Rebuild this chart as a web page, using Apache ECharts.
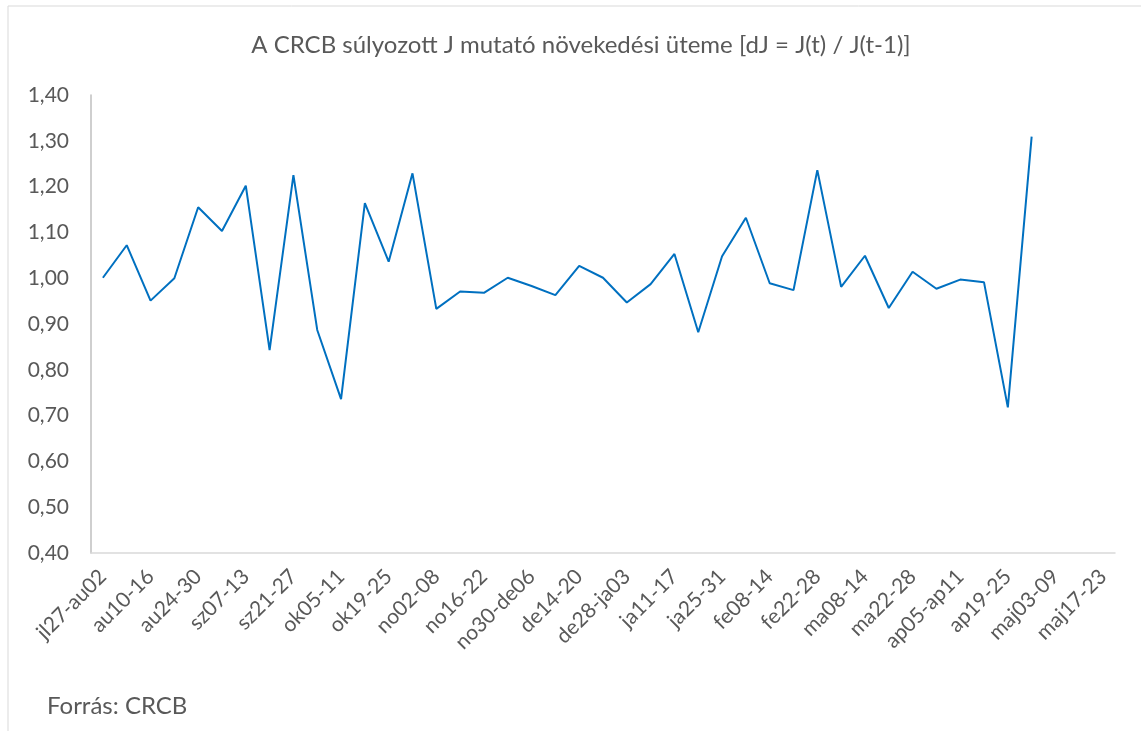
<!DOCTYPE html>
<html>
<head>
<meta charset="utf-8">
<script src="https://cdn.jsdelivr.net/npm/echarts@6/dist/echarts.min.js"></script>
<style>
  html, body { margin: 0; padding: 0; background: #fff; }
  #chart { width: 1141px; height: 731px; }
</style>
</head>
<body>
<div id="chart"></div>
<script>
// heti időszakok (2020 júl - 2021 máj)
const weeks = [
    'jl27-au02', 'au03-09', 'au10-16', 'au17-23', 'au24-30', 'au31-sz06', 'sz07-13', 'sz14-20',
    'sz21-27', 'sz28-ok04', 'ok05-11', 'ok12-18', 'ok19-25', 'ok26-no01', 'no02-08', 'no09-15',
    'no16-22', 'no23-29', 'no30-de06', 'de07-13', 'de14-20', 'de21-27', 'de28-ja03', 'ja04-10',
    'ja11-17', 'ja18-24', 'ja25-31', 'fe01-07', 'fe08-14', 'fe15-21', 'fe22-28', 'ma01-07',
    'ma08-14', 'ma15-21', 'ma22-28', 'ma29-ap04', 'ap05-ap11', 'ap12-18', 'ap19-25', 'ap26-maj02',
    'maj03-09', 'maj10-16', 'maj17-23'
];

// dJ = J(t) / J(t-1)
const dJ = [
    1.001, 1.072, 0.951, 1.000, 1.155, 1.103, 1.202, 0.843, 1.225, 0.887,
    0.736, 1.164, 1.036, 1.229, 0.933, 0.971, 0.968, 1.001, 0.983, 0.963,
    1.027, 1.001, 0.947, 0.987, 1.053, 0.882, 1.048, 1.132, 0.989, 0.974,
    1.236, 0.981, 1.049, 0.935, 1.014, 0.977, 0.997, 0.991, 0.718, 1.309
];

const yMin = 0.4;
const yMax = 1.4;
const yStep = 0.1;

const titleText = 'A CRCB súlyozott J mutató növekedési üteme [dJ = J(t) / J(t-1)]';
const sourceText = 'Forrás: CRCB';

window.addEventListener('load', function () {
    let chart = echarts.init(document.getElementById('chart'));
    let font = 'Lato, "Open Sans", sans-serif';

    let option = {
        backgroundColor: '#ffffff',
        animation: false,
        textStyle: { fontFamily: font },
        graphic: [
            {
                type: 'rect',
                shape: { x: 8, y: 6, width: 1150, height: 740 },
                style: { fill: 'none', stroke: '#d9d9d9', lineWidth: 1 },
                silent: true
            },
            {
                type: 'text',
                x: 581, y: 45,
                style: {
                    text: titleText,
                    fill: '#595959',
                    font: '24px ' + font,
                    textAlign: 'center',
                    textVerticalAlign: 'middle'
                }
            },
            {
                type: 'text',
                x: 47, y: 706,
                style: {
                    text: sourceText,
                    fill: '#595959',
                    font: '24px ' + font,
                    textAlign: 'left',
                    textVerticalAlign: 'middle'
                }
            }
        ],
        grid: {
            left: 91,
            right: 26,
            top: 95,
            bottom: 178
        },
        xAxis: {
            type: 'category',
            boundaryGap: true,
            data: weeks,
            axisLine: { lineStyle: { color: '#d9d9d9', width: 1.5 } },
            axisTick: { show: false },
            axisLabel: {
                interval: 1,
                rotate: 45,
                margin: 20,
                color: '#595959',
                fontSize: 21,
                fontFamily: font
            },
            splitLine: { show: false }
        },
        yAxis: {
            type: 'value',
            min: yMin,
            max: yMax,
            interval: yStep,
            axisLine: { show: true, lineStyle: { color: '#bfbfbf', width: 1.5 } },
            axisTick: { show: false },
            axisLabel: {
                margin: 22,
                color: '#595959',
                fontSize: 21,
                fontFamily: font,
                formatter: function (v) {
                    return v.toFixed(2).replace('.', ',');
                }
            },
            splitLine: { show: false }
        },
        series: [{
            type: 'line',
            data: dJ,
            symbol: 'none',
            lineStyle: { color: '#0070c0', width: 2 }
        }]
    };

    chart.setOption(option);
}, false);
</script>
</body>
</html>
